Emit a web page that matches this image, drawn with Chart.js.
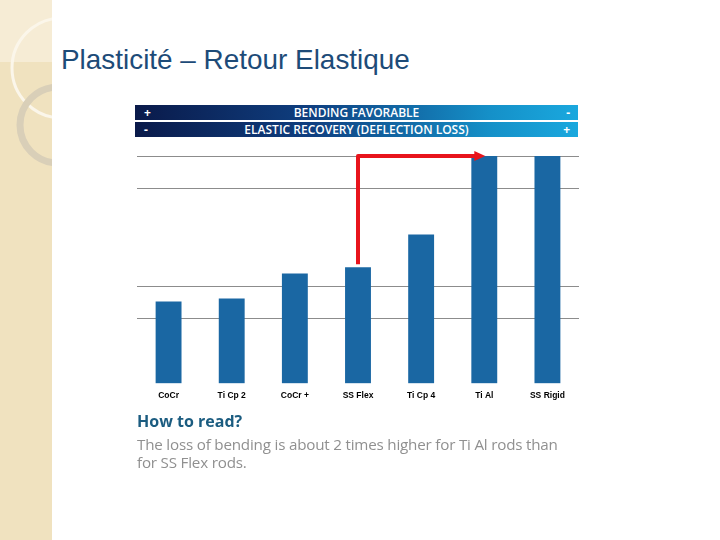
<!DOCTYPE html>
<html>
<head>
<meta charset="utf-8">
<script src="https://cdn.jsdelivr.net/npm/chart.js@4/dist/chart.umd.min.js"></script>
<style>
  html, body { margin: 0; padding: 0; }
  body { width: 720px; height: 540px; position: relative; background: #fff; overflow: hidden; font-family: "Liberation Sans", Arial, sans-serif; }
  #side { position: absolute; left: 0; top: 0; width: 52px; height: 540px; background: #f0e2bf; }
  #title { position: absolute; left: 61px; top: 44px; font-size: 27.9px; color: #1d4b78; white-space: nowrap; }
  .band { position: absolute; left: 135px; width: 443px; height: 15px; background: linear-gradient(to right, #0a1a4a 0%, #0f3f80 40%, #1590c8 80%, #1aa8de 100%); color: #fff; font-family: "Open Sans", sans-serif; font-weight: 600; font-size: 12px; line-height: 15px; text-align: center; }
  .band .l { position: absolute; left: 9px; top: 0; font-weight: bold; }
  .band .r { position: absolute; right: 8px; top: 0; font-weight: bold; }
  #b1 { top: 105px; }
  #b2 { top: 122px; }
  #wrap { position: absolute; left: 130px; top: 145px; width: 460px; height: 266px; }
  #howto { position: absolute; left: 137px; top: 410px; font-family: "Open Sans", sans-serif; font-weight: bold; font-size: 16px; color: #1b5c80; }
  #note { position: absolute; left: 137px; top: 435px; width: 440px; font-family: "Open Sans", sans-serif; font-size: 15.2px; line-height: 18px; color: #909090; letter-spacing: -0.2px; }
</style>
</head>
<body>
<div id="side">
  <svg width="52" height="540" style="position:absolute;left:0;top:0">
    <rect x="0" y="0" width="52" height="62" fill="#f6ecd5"/>
    <circle cx="62" cy="68" r="50" fill="none" stroke="#fbf6ea" stroke-width="3"/>
    <circle cx="58" cy="125" r="38" fill="none" stroke="#d9cfb8" stroke-width="7"/>
  </svg>
</div>
<div id="title">Plasticité – Retour Elastique</div>
<div class="band" id="b1"><span class="l">+</span>BENDING FAVORABLE<span class="r">-</span></div>
<div class="band" id="b2"><span class="l">-</span>ELASTIC RECOVERY (DEFLECTION LOSS)<span class="r">+</span></div>
<div id="wrap"><canvas id="chart"></canvas></div>
<div id="howto">How to read?</div>
<div id="note">The loss of bending is about 2 times higher for Ti Al rods than for SS Flex rods.</div>
<script>
const rods = ["CoCr", "Ti Cp 2", "CoCr +", "SS Flex", "Ti Cp 4", "Ti Al", "SS Rigid"];
const deflectionLoss = [2.53, 2.62, 3.39, 3.58, 4.59, 7, 7];
const shownGrid = [2, 3, 6, 7];

// red arrow from SS Flex up and across to Ti Al
const arrowPlugin = {
  id: "arrow",
  afterDatasetsDraw(chart) {
    const x = chart.scales.x, y = chart.scales.y, ctx = chart.ctx;
    const from = rods.indexOf("SS Flex"), to = rods.indexOf("Ti Al");
    const x0 = x.getPixelForValue(from);
    const y0 = y.getPixelForValue(deflectionLoss[from]) - 3;
    const yTop = y.getPixelForValue(deflectionLoss[to]);
    const x1 = x.getPixelForValue(to) - 8;
    ctx.save();
    ctx.strokeStyle = "#e8141c";
    ctx.fillStyle = "#e8141c";
    ctx.lineWidth = 4;
    ctx.lineJoin = "round";
    ctx.beginPath();
    ctx.moveTo(x0, y0);
    ctx.lineTo(x0, yTop);
    ctx.lineTo(x1, yTop);
    ctx.stroke();
    ctx.beginPath();
    ctx.moveTo(x1 - 2, yTop - 5);
    ctx.lineTo(x1 + 9, yTop);
    ctx.lineTo(x1 - 2, yTop + 5);
    ctx.closePath();
    ctx.fill();
    ctx.restore();
  }
};

new Chart(document.getElementById("chart"), {
  type: "bar",
  data: {
    labels: rods,
    datasets: [{
      data: deflectionLoss,
      backgroundColor: "#1a67a3",
      barPercentage: 0.41,
      categoryPercentage: 1
    }]
  },
  options: {
    responsive: true,
    maintainAspectRatio: false,
    animation: false,
    layout: { padding: { left: 7, right: 11, top: 11, bottom: 3 } },
    plugins: { legend: { display: false }, tooltip: { enabled: false } },
    scales: {
      x: {
        grid: { display: false, drawTicks: false },
        border: { display: false },
        ticks: { color: "#000", padding: 7, font: { family: "Liberation Sans", weight: "bold", size: 8.5 } }
      },
      y: {
        min: 0,
        max: 7,
        ticks: { display: false, stepSize: 1 },
        border: { display: false },
        grid: {
          drawTicks: false,
          color: (c) => shownGrid.includes(c.tick.value) ? "#8c8c8c" : "rgba(0,0,0,0)"
        }
      }
    }
  },
  plugins: [arrowPlugin]
});
</script>
</body>
</html>
